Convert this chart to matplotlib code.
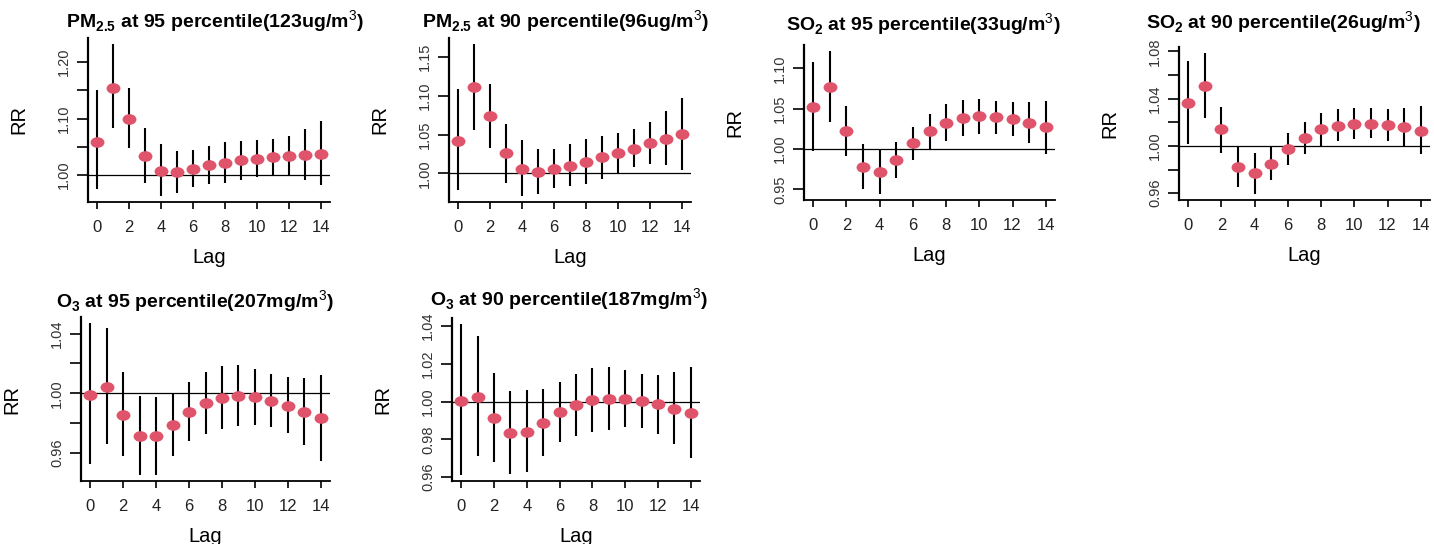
import matplotlib
matplotlib.use("Agg")
from matplotlib import pyplot as plt
from matplotlib.path import Path
from matplotlib.transforms import Affine2D
import numpy as np

plt.rcParams['font.family'] = ['Liberation Sans', 'DejaVu Sans']
plt.rcParams['mathtext.fontset'] = 'custom'
plt.rcParams['mathtext.rm'] = 'Liberation Sans'
plt.rcParams['mathtext.bf'] = 'Liberation Sans:bold'

lag = list(range(15))

# PM2.5 at 95 percentile
pm25_95_rr = [1.059, 1.155, 1.100, 1.034, 1.008, 1.005, 1.011, 1.017, 1.022, 1.026, 1.029, 1.032, 1.034, 1.036, 1.038]
pm25_95_lo = [0.976, 1.084, 1.048, 0.986, 0.963, 0.969, 0.979, 0.984, 0.986, 0.991, 0.997, 1.000, 1.000, 0.992, 0.982]
pm25_95_hi = [1.150, 1.232, 1.155, 1.084, 1.055, 1.043, 1.044, 1.052, 1.059, 1.061, 1.062, 1.064, 1.069, 1.081, 1.096]

# PM2.5 at 90 percentile
pm25_90_rr = [1.042, 1.111, 1.074, 1.026, 1.006, 1.002, 1.006, 1.010, 1.015, 1.021, 1.026, 1.032, 1.039, 1.045, 1.051]
pm25_90_lo = [0.979, 1.056, 1.033, 0.988, 0.971, 0.974, 0.981, 0.984, 0.987, 0.993, 1.000, 1.008, 1.012, 1.011, 1.005]
pm25_90_hi = [1.109, 1.167, 1.115, 1.064, 1.043, 1.032, 1.032, 1.038, 1.044, 1.048, 1.052, 1.057, 1.066, 1.081, 1.098]

# SO2 at 95 percentile
so2_95_rr = [1.052, 1.077, 1.022, 0.978, 0.971, 0.986, 1.007, 1.022, 1.032, 1.039, 1.041, 1.040, 1.037, 1.032, 1.027]
so2_95_lo = [0.998, 1.034, 0.992, 0.950, 0.944, 0.964, 0.986, 1.000, 1.010, 1.016, 1.019, 1.019, 1.016, 1.007, 0.994]
so2_95_hi = [1.108, 1.122, 1.053, 1.006, 0.999, 1.009, 1.027, 1.044, 1.056, 1.061, 1.062, 1.060, 1.058, 1.058, 1.060]

# SO2 at 90 percentile
so2_90_rr = [1.0365, 1.051, 1.014, 0.982, 0.977, 0.985, 0.997, 1.007, 1.014, 1.017, 1.019, 1.019, 1.018, 1.016, 1.013]
so2_90_lo = [1.002, 1.024, 0.994, 0.965, 0.959, 0.971, 0.984, 0.993, 0.9995, 1.004, 1.006, 1.007, 1.004, 0.9995, 0.993]
so2_90_hi = [1.072, 1.079, 1.033, 0.9995, 0.994, 0.9995, 1.011, 1.020, 1.028, 1.031, 1.032, 1.032, 1.031, 1.032, 1.034]

# O3 at 95 percentile
o3_95_rr = [0.9987, 1.0045, 0.9855, 0.9715, 0.9715, 0.979, 0.9875, 0.9933, 0.997, 0.9984, 0.9973, 0.995, 0.9918, 0.9878, 0.9833]
o3_95_lo = [0.953, 0.966, 0.958, 0.9455, 0.9455, 0.958, 0.968, 0.973, 0.976, 0.978, 0.9788, 0.9777, 0.9733, 0.9655, 0.9547]
o3_95_hi = [1.047, 1.044, 1.0145, 0.998, 0.9978, 1.0005, 1.0073, 1.0143, 1.018, 1.0187, 1.0163, 1.013, 1.0107, 1.0105, 1.0123]

# O3 at 90 percentile
o3_90_rr = [1.0003, 1.0024, 0.9913, 0.9835, 0.9838, 0.9887, 0.9943, 0.9983, 1.0007, 1.0016, 1.0014, 1.0003, 0.9986, 0.9963, 0.9937]
o3_90_lo = [0.9612, 0.9713, 0.9678, 0.9617, 0.9626, 0.9713, 0.9786, 0.9819, 0.9838, 0.9852, 0.9864, 0.9861, 0.983, 0.9774, 0.970]
o3_90_hi = [1.041, 1.0346, 1.0151, 1.0056, 1.0059, 1.0068, 1.0104, 1.0148, 1.0177, 1.0181, 1.0167, 1.0148, 1.0141, 1.0156, 1.0181]

titles = [r"PM$_{\mathbf{2.5}}$ at 95 percentile(123ug/m$^{3}$)",
          r"PM$_{\mathbf{2.5}}$ at 90 percentile(96ug/m$^{3}$)",
          r"SO$_{\mathbf{2}}$ at 95 percentile(33ug/m$^{3}$)",
          r"SO$_{\mathbf{2}}$ at 90 percentile(26ug/m$^{3}$)",
          r"O$_{\mathbf{3}}$ at 95 percentile(207mg/m$^{3}$)",
          r"O$_{\mathbf{3}}$ at 90 percentile(187mg/m$^{3}$)"]
series = [(pm25_95_rr, pm25_95_lo, pm25_95_hi),
          (pm25_90_rr, pm25_90_lo, pm25_90_hi),
          (so2_95_rr, so2_95_lo, so2_95_hi),
          (so2_90_rr, so2_90_lo, so2_90_hi),
          (o3_95_rr, o3_95_lo, o3_95_hi),
          (o3_90_rr, o3_90_lo, o3_90_hi)]
yticks = [[1.00, 1.05, 1.10, 1.15, 1.20],
          [1.00, 1.05, 1.10, 1.15],
          [0.95, 1.00, 1.05, 1.10],
          [0.96, 0.98, 1.00, 1.02, 1.04, 1.06, 1.08],
          [0.96, 0.98, 1.00, 1.02, 1.04],
          [0.96, 0.98, 1.00, 1.02, 1.04]]
ylabels = [["1.00", "", "1.10", "", "1.20"],
           ["1.00", "1.05", "1.10", "1.15"],
           ["0.95", "1.00", "1.05", "1.10"],
           ["0.96", "", "1.00", "", "1.04", "", "1.08"],
           ["0.96", "", "1.00", "", "1.04"],
           ["0.96", "0.98", "1.00", "1.02", "1.04"]]

# panel boxes in pixels: left, right, top, bottom; title centre x and pad
boxes = [(88, 330, 38, 202), (449, 691, 38, 202), (804, 1055, 45, 200),
         (1179, 1430, 47, 200), (81, 330, 317, 481), (452, 700, 318, 481)]
title_cx = [215, 565, 923, 1283, 195, 569]
title_pad = [7, 7, 10, 13, 6.5, 8.5]

W, H = 1434, 544
fig = plt.figure(figsize=(W / 100, H / 100), dpi=100)

ell = Path.unit_circle().transformed(Affine2D().scale(1.3, 1.0))
pink = "#DF536B"

for i in range(6):
    l, r, t, b = boxes[i]
    ax = fig.add_axes([l / W, 1 - b / H, (r - l) / W, (b - t) / H])
    rr, lo, hi = series[i]
    rr = np.array(rr)
    err = [rr - np.array(lo), np.array(hi) - rr]
    ax.errorbar(lag, rr, yerr=err, fmt="none", ecolor="black", elinewidth=1.5, capsize=0, zorder=2)
    ax.plot(lag, rr, linestyle="none", marker=ell, markersize=10, color=pink,
            markeredgewidth=0, zorder=3)
    ax.axhline(1.0, color="black", lw=0.9, zorder=1)
    ax.margins(x=0.04, y=0.04)
    ax.set_xlim(-0.56, 14.56)
    ax.set_xticks(range(0, 15, 2))
    ax.set_yticks(yticks[i])
    ax.set_yticklabels(ylabels[i], rotation=90, va="center", color="#333333", fontsize=10.5)
    ax.tick_params(axis="x", length=5, width=1.2, pad=8, labelsize=12, labelcolor="#222222")
    ax.tick_params(axis="y", length=8, width=1.2, pad=4)
    for s in ["top", "right"]:
        ax.spines[s].set_visible(False)
    ax.spines["left"].set_linewidth(1.6)
    ax.spines["bottom"].set_linewidth(1.3)
    ax.set_xlabel("Lag", fontsize=14.5)
    ax.set_ylabel("RR", fontsize=14.5)
    ax.xaxis.set_label_coords(0.5, -46 / (b - t))
    ax.yaxis.set_label_coords(-60 / (r - l), 0.5)
    ax.set_title(titles[i], fontsize=14, fontweight="bold", pad=title_pad[i],
                 x=(title_cx[i] - l) / (r - l))

fig.savefig("out.png", dpi=100)
